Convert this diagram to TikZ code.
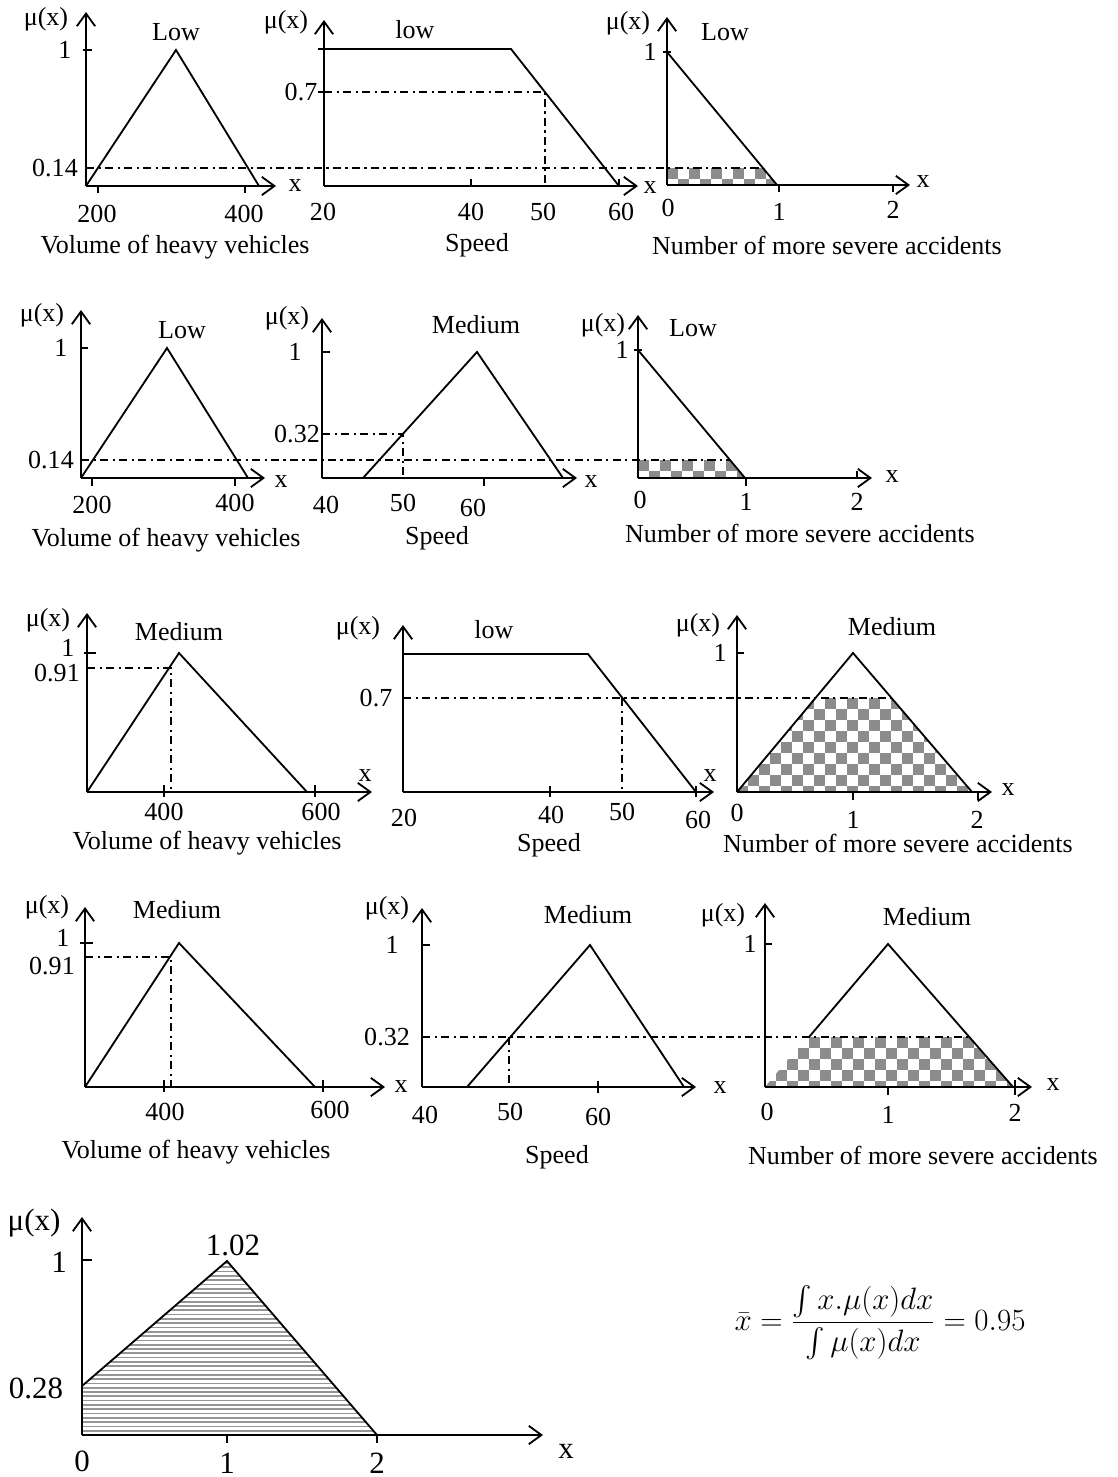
\RequirePackage{fix-cm}
\documentclass[tikz,border=0pt]{standalone}
\usepackage{amsmath}
\usepackage{fontspec}
\setmainfont{Liberation Serif}
\usepackage{xcolor}
\usepackage{tikz}
\usetikzlibrary{arrows.meta}
\definecolor{checkgray}{RGB}{140, 140, 140}
\definecolor{stripegray}{RGB}{150, 150, 150}

\begin{document}
\begin{tikzpicture}[
        x=0.025cm, y=-0.025cm,
        axis/.style={line width=1.3pt, -{Straight Barb[length=9pt, width=13pt]}},
        curve/.style={line width=1.3pt},
        tick/.style={line width=1.3pt},
        cut/.style={line width=1pt, dash pattern=on 6pt off 3pt on 1.5pt off 3pt},
        lbl/.style={font=\fontsize{18.5}{22}\selectfont, inner sep=0pt},
        big/.style={font=\fontsize{22}{26}\selectfont, inner sep=0pt}
    ]
        \useasboundingbox (0,0) rectangle (1117,1477);
        \fill[white] (0,0) rectangle (1117,1477);

        % ---------- row 1 ----------
        \begin{scope}
            \clip (667,168) -- (763,168) -- (777,185) -- (667,185) -- cycle;
            \foreach \cx in {667,689,...,790} \foreach \cy in {168,190} {
                \fill[checkgray] (\cx,\cy) rectangle ++(11,11);
                \fill[checkgray] (\cx+11,\cy+11) rectangle ++(11,11);}
        \end{scope}
        \draw[cut] (86,168) -- (763,168);
        \draw[cut] (324,92) -- (545,92) -- (545,186);

        \draw[axis] (86,186) -- (86,12);
        \draw[axis] (86,186) -- (276,186);
        \draw[curve] (86,186) -- (176,50) -- (259,186);
        \draw[tick] (83,50) -- (92,50);
        \draw[tick] (98,186) -- (98,193);
        \draw[tick] (245,186) -- (245,193);
        \node[lbl] (mu11) at (46,19) {μ(x)};
        \node[lbl] (set11) at (176,32) {Low};
        \node[lbl] (one11) at (65,50) {1};
        \node[lbl] (cut11) at (55,168) {0.14};
        \node[lbl] (a11) at (97,214) {200};
        \node[lbl] (b11) at (244,214) {400};
        \node[lbl] (x11) at (295,186) {x};
        \node[lbl] (var11) at (175,247) {Volume of heavy vehicles};

        \draw[axis] (324,186) -- (324,20);
        \draw[axis] (324,186) -- (638,186);
        \draw[curve] (324,49) -- (511,49) -- (619,186);
        \draw[tick] (318,49) -- (324,49);
        \draw[tick] (318,92) -- (324,92);
        \draw[tick] (471,186) -- (471,179);
        \draw[tick] (619,186) -- (619,179);
        \node[lbl] (mu12) at (286,22) {μ(x)};
        \node[lbl] (set12) at (415,30) {low};
        \node[lbl] (cut12) at (301,92) {0.7};
        \node[lbl] (a12) at (323,212) {20};
        \node[lbl] (b12) at (471,212) {40};
        \node[lbl] (c12) at (543,212) {50};
        \node[lbl] (d12) at (621,212) {60};
        \node[lbl] (x12) at (650,188) {x};
        \node[lbl] (var12) at (477,245) {Speed};

        \draw[axis] (667,185) -- (667,17);
        \draw[axis] (667,185) -- (910,185);
        \draw[curve] (667,52) -- (777,185);
        \draw[tick] (663,52) -- (671,52);
        \draw[tick] (779,185) -- (779,192);
        \draw[tick] (893,185) -- (893,192);
        \node[lbl] (mu13) at (628,23) {μ(x)};
        \node[lbl] (set13) at (725,32) {Low};
        \node[lbl] (one13) at (650,52) {1};
        \node[lbl] (a13) at (668,208) {0};
        \node[lbl] (b13) at (779,212) {1};
        \node[lbl] (c13) at (893,210) {2};
        \node[lbl] (x13) at (923,182) {x};
        \node[lbl] (var13) at (827,245) {Number of more severe accidents};

        % ---------- row 2 ----------
        \begin{scope}
            \clip (638,460) -- (730,460) -- (745,478) -- (638,478) -- cycle;
            \foreach \cx in {638,660,...,760} \foreach \cy in {460,482} {
                \fill[checkgray] (\cx,\cy) rectangle ++(11,11);
                \fill[checkgray] (\cx+11,\cy+11) rectangle ++(11,11);}
        \end{scope}
        \draw[cut] (81,460) -- (730,460);
        \draw[cut] (322,434) -- (403,434) -- (403,478);

        \draw[axis] (81,478) -- (81,310);
        \draw[axis] (81,478) -- (265,478);
        \draw[curve] (81,478) -- (167,348) -- (248,478);
        \draw[tick] (81,348) -- (88,348);
        \draw[tick] (92,478) -- (92,486);
        \draw[tick] (235,478) -- (235,486);
        \node[lbl] (mu21) at (42,315) {μ(x)};
        \node[lbl] (set21) at (182,330) {Low};
        \node[lbl] (one21) at (61,348) {1};
        \node[lbl] (cut21) at (51,460) {0.14};
        \node[lbl] (a21) at (92,505) {200};
        \node[lbl] (b21) at (235,503) {400};
        \node[lbl] (x21) at (281,482) {x};
        \node[lbl] (var21) at (166,540) {Volume of heavy vehicles};

        \draw[axis] (322,478) -- (322,318);
        \draw[axis] (322,478) -- (577,478);
        \draw[curve] (363,478) -- (477,352) -- (563,478);
        \draw[tick] (322,352) -- (330,352);
        \draw[tick] (484,478) -- (484,486);
        \node[lbl] (mu22) at (287,318) {μ(x)};
        \node[lbl] (set22) at (476,325) {Medium};
        \node[lbl] (one22) at (295,352) {1};
        \node[lbl] (cut22) at (297,434) {0.32};
        \node[lbl] (a22) at (326,505) {40};
        \node[lbl] (b22) at (403,503) {50};
        \node[lbl] (c22) at (473,508) {60};
        \node[lbl] (x22) at (591,482) {x};
        \node[lbl] (var22) at (437,538) {Speed};

        \draw[axis] (638,478) -- (638,315);
        \draw[axis] (638,478) -- (872,478);
        \draw[curve] (638,350) -- (745,478);
        \draw[tick] (634,350) -- (642,350);
        \draw[tick] (746,478) -- (746,486);
        \draw[tick] (857,478) -- (857,471);
        \node[lbl] (mu23) at (603,325) {μ(x)};
        \node[lbl] (set23) at (693,328) {Low};
        \node[lbl] (one23) at (622,350) {1};
        \node[lbl] (a23) at (640,500) {0};
        \node[lbl] (b23) at (746,502) {1};
        \node[lbl] (c23) at (857,502) {2};
        \node[lbl] (x23) at (892,477) {x};
        \node[lbl] (var23) at (800,533) {Number of more severe accidents};

        % ---------- row 3 ----------
        \begin{scope}
            \clip (737,792) -- (815,698) -- (892,698) -- (972,792) -- cycle;
            \foreach \cx in {737,759,...,980} \foreach \cy in {698,720,...,800} {
                \fill[checkgray] (\cx,\cy) rectangle ++(11,11);
                \fill[checkgray] (\cx+11,\cy+11) rectangle ++(11,11);}
        \end{scope}
        \draw[cut] (87,668) -- (171,668) -- (171,792);
        \draw[cut] (403,698) -- (892,698);
        \draw[cut] (622,698) -- (622,792);

        \draw[axis] (87,792) -- (87,613);
        \draw[axis] (87,792) -- (372,792);
        \draw[curve] (87,792) -- (179,653) -- (307,792);
        \draw[tick] (84,653) -- (96,653);
        \draw[tick] (164,785) -- (164,797);
        \draw[tick] (315,785) -- (315,797);
        \node[lbl] (mu31) at (48,620) {μ(x)};
        \node[lbl] (set31) at (179,632) {Medium};
        \node[lbl] (one31) at (68,648) {1};
        \node[lbl] (cut31) at (57,673) {0.91};
        \node[lbl] (a31) at (164,812) {400};
        \node[lbl] (b31) at (321,812) {600};
        \node[lbl] (x31) at (365,776) {x};
        \node[lbl] (var31) at (207,843) {Volume of heavy vehicles};

        \draw[axis] (403,792) -- (403,625);
        \draw[axis] (403,792) -- (714,792);
        \draw[curve] (403,654) -- (588,654) -- (696,792);
        \draw[tick] (550,786) -- (550,797);
        \draw[tick] (696,786) -- (696,797);
        \node[lbl] (mu32) at (358,628) {μ(x)};
        \node[lbl] (set32) at (494,630) {low};
        \node[lbl] (cut32) at (376,698) {0.7};
        \node[lbl] (a32) at (404,818) {20};
        \node[lbl] (b32) at (551,815) {40};
        \node[lbl] (c32) at (622,812) {50};
        \node[lbl] (d32) at (698,820) {60};
        \node[lbl] (x32) at (710,776) {x};
        \node[lbl] (var32) at (549,845) {Speed};

        \draw[axis] (737,792) -- (737,615);
        \draw[axis] (737,792) -- (992,792);
        \draw[curve] (737,792) -- (853,653) -- (972,792);
        \draw[tick] (737,653) -- (744,653);
        \draw[tick] (853,792) -- (853,800);
        \draw[tick] (978,792) -- (978,800);
        \node[lbl] (mu33) at (698,625) {μ(x)};
        \node[lbl] (set33) at (892,627) {Medium};
        \node[lbl] (one33) at (720,653) {1};
        \node[lbl] (a33) at (737,813) {0};
        \node[lbl] (b33) at (853,820) {1};
        \node[lbl] (c33) at (977,820) {2};
        \node[lbl] (x33) at (1008,790) {x};
        \node[lbl] (var33) at (898,843) {Number of more severe accidents};

        % ---------- row 4 ----------
        \begin{scope}
            \clip (765,1087) -- (790,1057) -- (798,1057) -- (798,1037) -- (969,1037) -- (1013,1087) -- cycle;
            \foreach \cx in {765,787,...,1020} \foreach \cy in {1037,1059,...,1090} {
                \fill[checkgray] (\cx,\cy) rectangle ++(11,11);
                \fill[checkgray] (\cx+11,\cy+11) rectangle ++(11,11);}
        \end{scope}
        \draw[cut] (85,957) -- (171,957) -- (171,1087);
        \draw[cut] (422,1037) -- (969,1037);
        \draw[cut] (509,1037) -- (509,1087);

        \draw[axis] (85,1087) -- (85,907);
        \draw[axis] (85,1087) -- (385,1087);
        \draw[curve] (85,1087) -- (179,943) -- (315,1087);
        \draw[tick] (80,943) -- (93,943);
        \draw[tick] (164,1080) -- (164,1092);
        \draw[tick] (323,1080) -- (323,1092);
        \node[lbl] (mu41) at (47,907) {μ(x)};
        \node[lbl] (set41) at (177,910) {Medium};
        \node[lbl] (one41) at (63,938) {1};
        \node[lbl] (cut41) at (52,966) {0.91};
        \node[lbl] (a41) at (165,1112) {400};
        \node[lbl] (b41) at (330,1110) {600};
        \node[lbl] (x41) at (401,1087) {x};
        \node[lbl] (var41) at (196,1152) {Volume of heavy vehicles};

        \draw[axis] (422,1087) -- (422,908);
        \draw[axis] (422,1087) -- (696,1087);
        \draw[curve] (467,1087) -- (590,945) -- (684,1087);
        \draw[tick] (422,945) -- (430,945);
        \draw[tick] (598,1081) -- (598,1093);
        \node[lbl] (mu42) at (387,908) {μ(x)};
        \node[lbl] (set42) at (588,915) {Medium};
        \node[lbl] (one42) at (392,945) {1};
        \node[lbl] (cut42) at (387,1037) {0.32};
        \node[lbl] (a42) at (425,1115) {40};
        \node[lbl] (b42) at (510,1112) {50};
        \node[lbl] (c42) at (598,1117) {60};
        \node[lbl] (x42) at (720,1088) {x};
        \node[lbl] (var42) at (557,1157) {Speed};

        \draw[axis] (765,1087) -- (765,903);
        \draw[axis] (765,1087) -- (1032,1087);
        \draw[curve] (809,1037) -- (888,944) -- (1013,1087);
        \draw[tick] (765,944) -- (772,944);
        \draw[tick] (888,1087) -- (888,1095);
        \draw[tick] (1015,1080) -- (1015,1095);
        \node[lbl] (mu43) at (723,915) {μ(x)};
        \node[lbl] (set43) at (927,917) {Medium};
        \node[lbl] (one43) at (750,944) {1};
        \node[lbl] (a43) at (767,1112) {0};
        \node[lbl] (b43) at (888,1115) {1};
        \node[lbl] (c43) at (1015,1113) {2};
        \node[lbl] (x43) at (1053,1085) {x};
        \node[lbl] (var43) at (923,1155) {Number of more severe accidents};

        % ---------- row 5 ----------
        \begin{scope}
            \clip (82,1386) -- (227,1261) -- (377,1435) -- (82,1435) -- cycle;
            \foreach \sy in {1263,1267.3,...,1436}
                \draw[stripegray, line width=1.2pt] (82,\sy) -- (380,\sy);
        \end{scope}
        \draw[axis] (82,1435) -- (82,1217);
        \draw[axis] (82,1435) -- (543,1435);
        \draw[curve] (82,1386) -- (227,1261) -- (377,1435);
        \draw[tick] (82,1260) -- (92,1260);
        \draw[tick] (227,1435) -- (227,1443);
        \draw[tick] (377,1435) -- (377,1443);
        \node[big] (mu5) at (34,1223) {μ(x)};
        \node[big] (one5) at (59,1262) {1};
        \node[big] (cut5) at (36,1388) {0.28};
        \node[big] (peak5) at (233,1245) {1.02};
        \node[big] (a5) at (82,1461) {0};
        \node[big] (b5) at (227,1463) {1};
        \node[big] (c5) at (377,1463) {2};
        \node[big] (x5) at (566,1451) {x};
        \node[font=\fontsize{22}{26}\selectfont] (formula) at (880,1323)
            {$\bar{x} = \dfrac{\int x.\mu(x)dx}{\int \mu(x)dx} = 0.95$};
    \end{tikzpicture}
\end{document}
